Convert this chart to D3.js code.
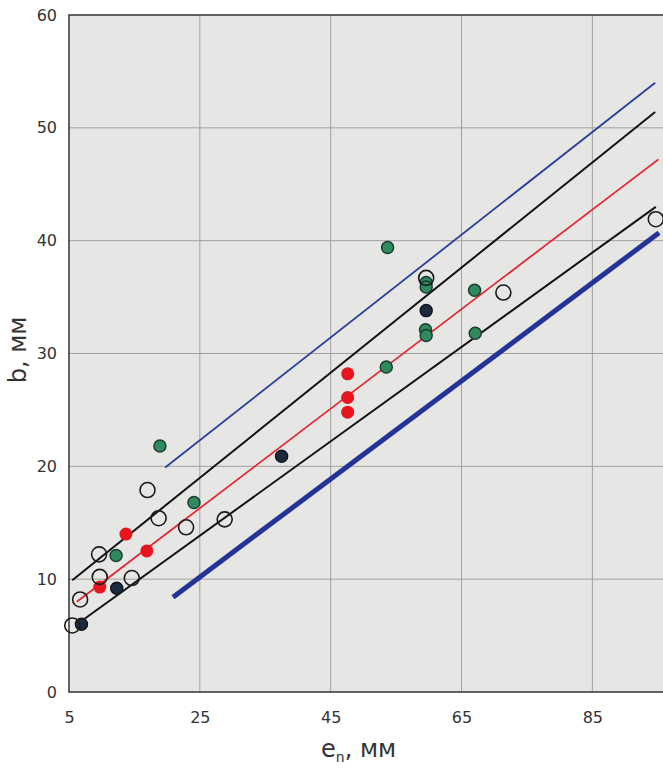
<!DOCTYPE html>
<html><head><meta charset="utf-8">
<script src="https://cdn.jsdelivr.net/npm/d3@7"></script>
<style>body{margin:0;background:#fff}svg{display:block}</style>
</head><body>
<svg id="c" width="663" height="768"></svg>
<script>
const xTicks = [5, 25, 45, 65, 85];
const yTicks = [0, 10, 20, 30, 40, 50, 60];

const openX = [5.5, 6.7, 9.6, 9.7, 14.6, 17.0, 18.7, 22.9, 28.8, 59.6, 71.4, 94.7];
const openY = [5.9, 8.2, 12.2, 10.2, 10.1, 17.9, 15.4, 14.6, 15.3, 36.7, 35.4, 41.9];

const redX = [9.7, 13.7, 16.9, 47.6, 47.6, 47.6];
const redY = [9.3, 14.0, 12.5, 28.2, 26.1, 24.8];

const greenX = [12.2, 18.9, 24.1, 53.7, 59.6, 59.6, 67.0, 59.5, 59.6, 67.1, 53.5];
const greenY = [12.1, 21.8, 16.8, 39.4, 36.3, 35.9, 35.6, 32.1, 31.6, 31.8, 28.8];

const navyX = [6.9, 12.3, 37.5, 59.6];
const navyY = [6.0, 9.2, 20.9, 33.8];

// fitted / bounding lines: [x0, x1], [y0, y1]
const blueUpperX = [19.7, 94.6], blueUpperY = [19.9, 54.0];
const blackUpperX = [5.5, 94.6], blackUpperY = [9.9, 51.4];
const redLineX = [6.2, 95.1], redLineY = [8.0, 47.2];
const blackLowerX = [6.7, 94.7], blackLowerY = [6.2, 43.0];
const blueLowerX = [20.9, 95.2], blueLowerY = [8.4, 40.7];

const svg = d3.select('#c');
const L = 69, R = 663, T = 15, B = 692;
const x = d3.scaleLinear().domain([5, 95.8]).range([L, R]);
const y = d3.scaleLinear().domain([0, 60]).range([B, T]);
const FONT = 'DejaVu Sans, Verdana, sans-serif';

svg.append('rect').attr('x', L).attr('y', T).attr('width', R - L).attr('height', B - T).attr('fill', '#e6e6e4');

// grid
svg.append('g').selectAll('line').data(xTicks.slice(1)).join('line')
  .attr('x1', d => x(d)).attr('x2', d => x(d)).attr('y1', T).attr('y2', B)
  .attr('stroke', '#a0a0a0').attr('stroke-width', 1);
svg.append('g').selectAll('line').data(yTicks.slice(1, -1)).join('line')
  .attr('x1', L).attr('x2', R).attr('y1', d => y(d)).attr('y2', d => y(d))
  .attr('stroke', '#a0a0a0').attr('stroke-width', 1);

// frame
svg.append('path').attr('d', `M${R},${T}H${L}V${B}H${R}`).attr('fill', 'none')
  .attr('stroke', '#333').attr('stroke-width', 1.5);

// axes tick labels
const xa = svg.append('g').attr('transform', `translate(0,${B})`)
  .call(d3.axisBottom(x).tickValues(xTicks).tickSize(0).tickPadding(20));
xa.select('.domain').remove();
xa.selectAll('text').attr('font-family', FONT).attr('font-size', 16).attr('fill', '#333');
const ya = svg.append('g').attr('transform', `translate(${L},0)`)
  .call(d3.axisLeft(y).tickValues(yTicks).tickSize(0).tickPadding(12));
ya.select('.domain').remove();
ya.selectAll('text').attr('font-family', FONT).attr('font-size', 16).attr('fill', '#333');

// axis titles
svg.append('text').attr('transform', 'translate(26,350) rotate(-90)').attr('text-anchor', 'middle')
  .attr('font-family', FONT).attr('font-size', 24).attr('fill', '#333')
  .text('b, мм');
const xt = svg.append('text').attr('x', 321).attr('y', 757)
  .attr('font-family', FONT).attr('font-size', 24).attr('fill', '#333');
xt.append('tspan').text('e');
xt.append('tspan').attr('font-size', 14).attr('dy', 5).text('n');
xt.append('tspan').attr('dy', -5).text(', мм');

// lines
const ln = d3.line().x(d => x(d[0])).y(d => y(d[1]));
function drawLine(xs, ys, color, w) {
  svg.append('path').datum(d3.zip(xs, ys)).attr('d', ln).attr('fill', 'none')
    .attr('stroke', color).attr('stroke-width', w);
}
drawLine(blueUpperX, blueUpperY, '#2a3f9a', 1.8);
drawLine(blackUpperX, blackUpperY, '#111', 2);
drawLine(redLineX, redLineY, '#e8202a', 1.7);
drawLine(blackLowerX, blackLowerY, '#111', 2);
drawLine(blueLowerX, blueLowerY, '#23339a', 5);

// markers
function drawPts(xs, ys, r, fill, stroke, sw) {
  svg.append('g').selectAll('circle').data(d3.zip(xs, ys)).join('circle')
    .attr('cx', d => x(d[0])).attr('cy', d => y(d[1])).attr('r', r)
    .attr('fill', fill).attr('stroke', stroke).attr('stroke-width', sw);
}
drawPts(greenX, greenY, 6, '#2f8a5e', '#1d3d30', 1.5);
drawPts(navyX, navyY, 6, '#1b2a3c', '#0d1520', 1.5);
drawPts(redX, redY, 6.5, '#e8141e', 'none', 0);
drawPts(openX, openY, 7.5, 'none', '#1a1a1a', 1.6);
</script>
</body></html>
